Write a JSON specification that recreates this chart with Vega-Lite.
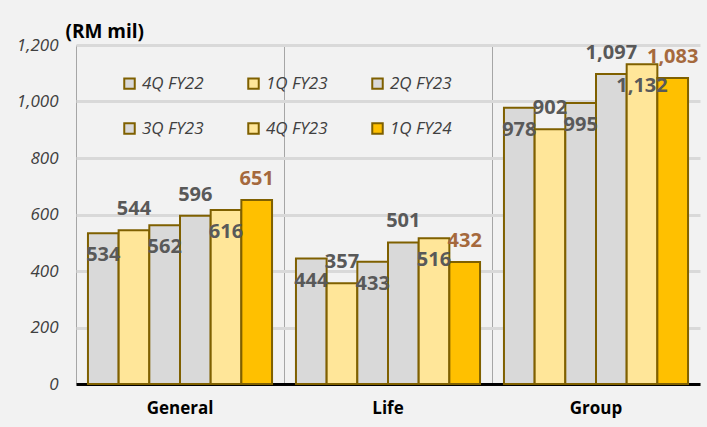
{
  "$schema": "https://vega.github.io/schema/vega-lite/v6.json",
  "width": 624,
  "height": 339,
  "autosize": {"type": "none"},
  "padding": {"left": 76, "top": 45, "right": 7, "bottom": 43},
  "background": "#f2f2f2",
  "config": {"view": {"stroke": null}, "font": "Open Sans"},
  "data": {
    "values": [
      {"cat": "General", "series": "4Q FY22", "value": 534},
      {"cat": "General", "series": "1Q FY23", "value": 544},
      {"cat": "General", "series": "2Q FY23", "value": 562},
      {"cat": "General", "series": "3Q FY23", "value": 596},
      {"cat": "General", "series": "4Q FY23", "value": 616},
      {"cat": "General", "series": "1Q FY24", "value": 651},
      {"cat": "Life", "series": "4Q FY22", "value": 444},
      {"cat": "Life", "series": "1Q FY23", "value": 357},
      {"cat": "Life", "series": "2Q FY23", "value": 433},
      {"cat": "Life", "series": "3Q FY23", "value": 501},
      {"cat": "Life", "series": "4Q FY23", "value": 516},
      {"cat": "Life", "series": "1Q FY24", "value": 432},
      {"cat": "Group", "series": "4Q FY22", "value": 978},
      {"cat": "Group", "series": "1Q FY23", "value": 902},
      {"cat": "Group", "series": "2Q FY23", "value": 995},
      {"cat": "Group", "series": "3Q FY23", "value": 1097},
      {"cat": "Group", "series": "4Q FY23", "value": 1132},
      {"cat": "Group", "series": "1Q FY24", "value": 1083}
    ]
  },
  "encoding": {
    "x": {
      "field": "cat", "type": "nominal", "sort": ["General", "Life", "Group"],
      "scale": {"paddingInner": 0, "paddingOuter": 0},
      "axis": {
        "title": null, "labelAngle": 0, "labelFontWeight": "bold", "labelFontSize": 17,
        "labelColor": "#000000", "labelPadding": 16, "ticks": false,
        "domainColor": "#000000", "domainWidth": 3,
        "grid": true, "bandPosition": 0, "gridColor": "#a6a6a6", "gridWidth": 1
      }
    },
    "xOffset": {
      "field": "series", "type": "nominal",
      "sort": ["4Q FY22", "1Q FY23", "2Q FY23", "3Q FY23", "4Q FY23", "1Q FY24"],
      "scale": {"paddingInner": 0, "paddingOuter": 0.39}
    },
    "y": {
      "field": "value", "type": "quantitative",
      "scale": {"domain": [0, 1200], "nice": false},
      "axis": {
        "values": [0, 200, 400, 600, 800, 1000, 1200],
        "title": "(RM mil)", "titleAngle": 0, "titleAlign": "left", "titleBaseline": "alphabetic",
        "titleX": -11, "titleY": -8, "titleFontSize": 19, "titleFontWeight": "bold", "titleColor": "#000000",
        "domain": false, "ticks": false, "labelPadding": 18, "labelFontSize": 17,
        "labelFontStyle": "italic", "labelColor": "#404040",
        "gridColor": "#d9d9d9", "gridWidth": 3
      }
    }
  },
  "layer": [
    {
      "mark": {"type": "bar", "stroke": "#7f6000", "strokeWidth": 2},
      "encoding": {
        "fill": {
          "field": "series", "type": "nominal",
          "sort": ["4Q FY22", "1Q FY23", "2Q FY23", "3Q FY23", "4Q FY23", "1Q FY24"],
          "scale": {
            "domain": ["4Q FY22", "1Q FY23", "2Q FY23", "3Q FY23", "4Q FY23", "1Q FY24"],
            "range": ["#d9d9d9", "#ffe699", "#d9d9d9", "#d9d9d9", "#ffe699", "#ffc000"]
          },
          "legend": {
            "title": null, "orient": "none", "legendX": 45, "legendY": 30,
            "direction": "horizontal", "columns": 3, "columnPadding": 40, "rowPadding": 26,
            "symbolType": "square", "symbolSize": 110, "symbolStrokeColor": "#7f6000",
            "symbolStrokeWidth": 2, "symbolOpacity": 1, "labelFontSize": 17, "labelFontStyle": "italic",
            "labelColor": "#404040", "labelOffset": 4, "gridAlign": "all"
          }
        }
      }
    },
    {
      "transform": [{"filter": {"field": "series", "oneOf": ["4Q FY22", "2Q FY23", "4Q FY23"]}}],
      "mark": {"type": "text", "dy": 22, "fontSize": 20, "fontWeight": "bold", "color": "#595959", "baseline": "middle"},
      "encoding": {"text": {"field": "value", "type": "quantitative", "format": ","}}
    },
    {
      "transform": [{"filter": {"field": "series", "oneOf": ["1Q FY23", "3Q FY23", "1Q FY24"]}}],
      "mark": {"type": "text", "dy": -21, "fontSize": 20, "fontWeight": "bold", "baseline": "middle"},
      "encoding": {
        "text": {"field": "value", "type": "quantitative", "format": ","},
        "color": {
          "condition": {"test": "datum.series === '1Q FY24'", "value": "#a5693d"},
          "value": "#595959"
        }
      }
    }
  ]
}
